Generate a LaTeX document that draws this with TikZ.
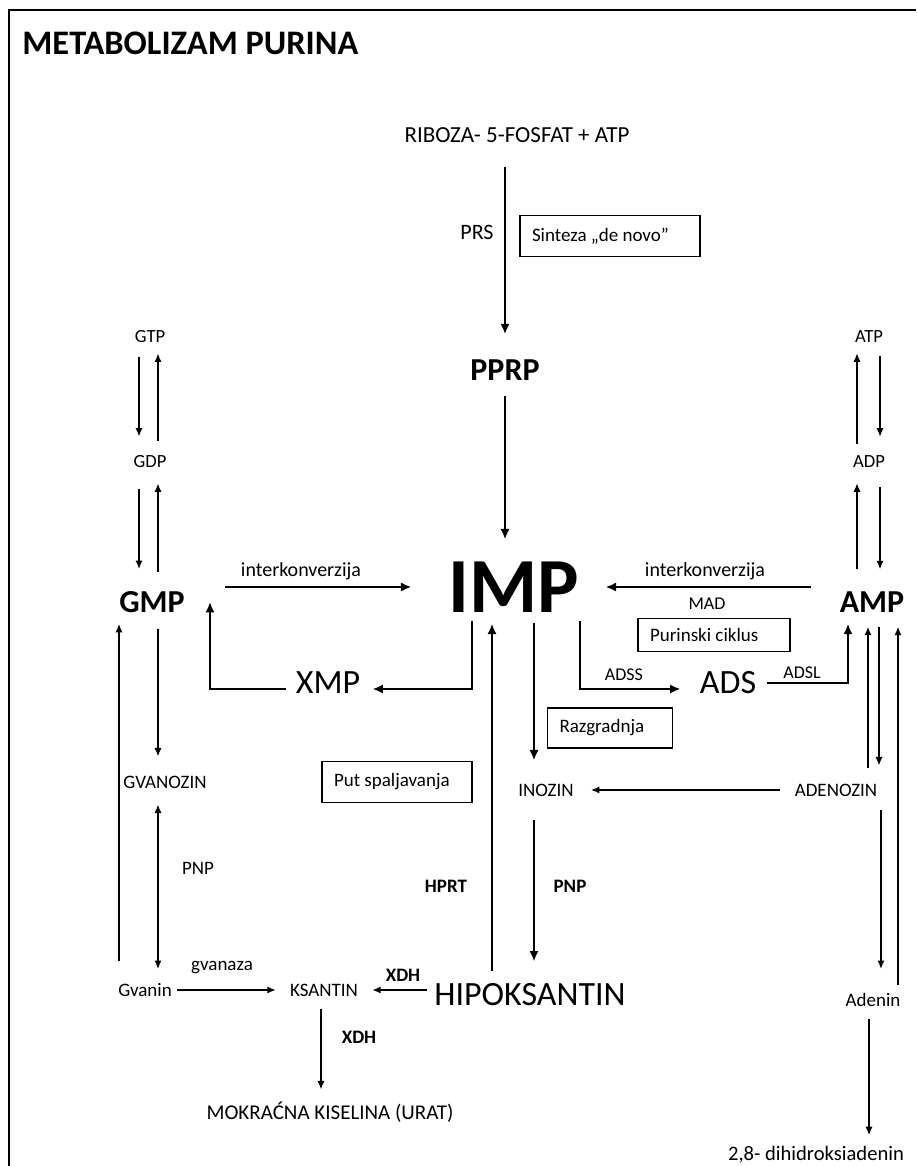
\documentclass[tikz,border=0pt]{standalone}
\usepackage{fontspec}
\setmainfont{Carlito}
\usepackage{tikz}
\usetikzlibrary{arrows,positioning,arrows.meta}
\tikzset{
	frame/.style={
		rectangle, draw, line width=0.8pt,
		inner xsep=6pt, inner ysep=0pt, align=flush left,
		font=\fontsize{9.5}{11}\selectfont,
	},
	line/.style={
		draw, >={Latex[length=4.2pt,width=3.6pt]}, ->, line width=0.7pt,
	},
	bigline/.style={
		draw, >={Latex[length=5.2pt,width=4.6pt]}, ->, line width=1.25pt,
	},
	lbl/.style={inner sep=0pt, font=\fontsize{9.5}{11}\selectfont},
	nuc/.style={inner sep=0pt, font=\fontsize{9.3}{11}\selectfont},
	enz/.style={inner sep=0pt, font=\fontsize{9.5}{11}\selectfont\bfseries},
	met/.style={inner sep=0pt, font=\fontsize{16}{18}\selectfont\bfseries},
	bigmet/.style={inner sep=0pt, font=\fontsize{17}{19}\selectfont},
}

\begin{document}
\begin{tikzpicture}[x=0.5pt, y=-0.5pt]
	\useasboundingbox (0,0) rectangle (916,1166);
	\draw [line width=0.8pt] (9,1166) -- (9,10) -- (916,10);

	\node [anchor=west, inner sep=0pt, font=\fontsize{17.2}{20}\selectfont\bfseries] (title) at (22,43) {METABOLIZAM PURINA};

	% metabolites
	\node [lbl, font=\fontsize{11.5}{13}\selectfont] (rib) at (517,135) {RIBOZA- 5-FOSFAT + ATP};
	\node [met] (pprp) at (505,370) {PPRP};
	\node [met, font=\fontsize{39}{42}\selectfont\bfseries] (imp) at (514,587) {IMP};
	\node [met] (gmp) at (152,602) {GMP};
	\node [met] (amp) at (872,602) {AMP};
	\node [nuc] (gtp) at (150,337) {GTP};
	\node [nuc] (gdp) at (150,462) {GDP};
	\node [nuc] (atp) at (869,337) {ATP};
	\node [nuc] (adp) at (869,462) {ADP};
	\node [bigmet] (xmp) at (328,683) {XMP};
	\node [bigmet] (ads) at (728,683) {ADS};
	\node [lbl] (gvanozin) at (165,782) {GVANOZIN};
	\node [lbl] (inozin) at (546,790) {INOZIN};
	\node [lbl] (adenozin) at (836,790) {ADENOZIN};
	\node [lbl] (gvanin) at (145,990) {Gvanin};
	\node [lbl] (ksantin) at (324,990) {KSANTIN};
	\node [bigmet] (hipo) at (530,995) {HIPOKSANTIN};
	\node [lbl] (adenin) at (873,1000) {Adenin};
	\node [lbl, font=\fontsize{10.5}{12}\selectfont] (urat) at (330,1112) {MOKRAĆNA KISELINA (URAT)};
	\node [lbl, font=\fontsize{10.3}{12}\selectfont] (dihidro) at (816,1155) {2,8- dihidroksiadenin};

	% boxes
	\node [frame, text width=78pt, minimum height=20.5pt] (denovo) at (610,236) {Sinteza „de novo”};
	\node [frame, text width=64pt, minimum height=16.5pt] (ciklus) at (714,635) {Purinski ciklus};
	\node [frame, text width=50.5pt, minimum height=20pt] (razgr) at (610,728) {Razgradnja};
	\node [frame, text width=63pt, minimum height=20.5pt] (spas) at (397,782) {Put spaljavanja};

	% enzymes and labels
	\node [lbl, font=\fontsize{11}{13}\selectfont] (prs) at (477,232) {PRS};
	\node [lbl, font=\fontsize{10}{12}\selectfont] (ikl) at (301,571) {interkonverzija};
	\node [lbl, font=\fontsize{10}{12}\selectfont] (ikr) at (705,571) {interkonverzija};
	\node [lbl, font=\fontsize{9}{11}\selectfont] (mad) at (707,604) {MAD};
	\node [lbl, font=\fontsize{9}{11}\selectfont] (adss) at (624,675) {ADSS};
	\node [lbl, font=\fontsize{9}{11}\selectfont] (adsl) at (802,673) {ADSL};
	\node [enz] (hprt) at (446,886) {HPRT};
	\node [enz] (pnpb) at (570,886) {PNP};
	\node [lbl] (pnp) at (198,868) {PNP};
	\node [lbl] (gvanaza) at (222,968) {gvanaza};
	\node [enz] (xdha) at (403,975) {XDH};
	\node [enz] (xdhb) at (359,1037) {XDH};

	% de novo and interconversion
	\path [bigline, shorten <=12pt, shorten >=12.5pt] ([xshift=-6pt]rib.south) -- (pprp.north);
	\path [bigline, shorten <=7.5pt, shorten >=11pt] (pprp.south) -- ([xshift=-4.5pt]imp.north);
	\path [bigline, shorten <=20pt, shorten >=18.5pt] (gmp.east |- imp.west) -- (imp.west);
	\path [bigline, shorten <=14pt, shorten >=13pt] (amp.west |- imp.east) -- (imp.east);

	% GTP / GDP / GMP
	\path [line, shorten <=6.5pt, shorten >=9.5pt] ([xshift=-5.5pt]gtp.south) -- ([xshift=-5.5pt]gdp.north);
	\path [line, shorten <=7.5pt, shorten >=5pt] ([xshift=4pt]gdp.north) -- ([xshift=4pt]gtp.south);
	\path [line, shorten <=10pt, shorten >=11pt] ([xshift=-5.5pt]gdp.south) -- ([xshift=-6.5pt]gmp.north);
	\path [line, shorten <=9.5pt, shorten >=7.5pt] ([xshift=3pt]gmp.north) -- ([xshift=4pt]gdp.south);

	% ATP / ADP / AMP
	\path [line, shorten <=6pt, shorten >=5pt] ([xshift=-6pt]adp.north) -- ([xshift=-6pt]atp.south);
	\path [line, shorten <=6.5pt, shorten >=9.5pt] ([xshift=5.5pt]atp.south) -- ([xshift=5.5pt]adp.north);
	\path [line, shorten <=11pt, shorten >=7.5pt] ([xshift=-7.5pt]amp.north) -- ([xshift=-6pt]adp.south);
	\path [line, shorten <=9.5pt, shorten >=11pt] ([xshift=5.5pt]adp.south) -- ([xshift=4pt]amp.north);

	% purine cycle
	\path [bigline, shorten <=4pt, shorten >=6pt] ([xshift=-21pt]imp.south) |- ([yshift=-3pt]xmp.east);
	\path [bigline, shorten <=4.5pt] ([yshift=-3pt]xmp.west) -| ([xshift=29pt]gmp.center);
	\path [bigline, shorten <=4pt, shorten >=9.5pt] ([xshift=33pt]imp.south) |- ([yshift=-3pt]ads.west);
	\path [bigline, shorten <=5pt, shorten >=5.5pt] (ads.east) -| ([xshift=-12pt]amp.south);

	% degradation and salvage
	\path [bigline, shorten <=6pt, shorten >=5.5pt] ([xshift=-19pt]hipo.north) -- ([xshift=-11pt]imp.south);
	\path [bigline, shorten <=5pt, shorten >=11.5pt] ([xshift=10pt]imp.south) -- ([xshift=-6pt]inozin.north);
	\path [bigline, shorten <=11.5pt, shorten >=11pt] ([xshift=-6pt]inozin.south) -- ([xshift=2pt]hipo.north);
	\path [line, shorten <=7pt, shorten >=8.5pt] (adenozin.west) -- (inozin.east);
	\path [line, shorten <=7pt, shorten >=9pt] ([xshift=3.5pt]amp.south) -- ([xshift=21.5pt]adenozin.north);
	\path [line, shorten <=7.5pt, shorten >=7pt] ([xshift=16pt]adenozin.north) -- ([xshift=-2pt]amp.south);
	\path [line, shorten <=4pt, shorten >=7pt] ([xshift=12.5pt]adenin.north) -- ([xshift=13pt]amp.south);
	\path [line, shorten <=6.5pt, shorten >=12pt] ([xshift=22.5pt]adenozin.south) -- ([xshift=4pt]adenin.north);
	\path [line, shorten <=6pt, shorten >=5.5pt] ([xshift=-2pt]adenin.south) -- ([xshift=26.5pt]dihidro.north);

	% guanine side
	\path [line, shorten <=8pt, shorten >=9.5pt] ([xshift=3pt]gmp.south) -- ([xshift=-3.5pt]gvanozin.north);
	\path [line, <->, shorten <=8pt, shorten >=7pt] ([xshift=-3.5pt]gvanozin.south) -- ([xshift=6.5pt]gvanin.north);
	\path [line, shorten <=11pt, shorten >=5.5pt] ([xshift=-13pt]gvanin.north) -- ([xshift=-16.5pt]gmp.south);
	\path [line, shorten <=2.5pt, shorten >=7pt] (gvanin.east) -- (ksantin.west);
	\path [line, shorten <=3.5pt, shorten >=7pt] (hipo.west |- ksantin.east) -- (ksantin.east);
	\path [line, shorten <=6pt, shorten >=6pt] ([xshift=-1.5pt]ksantin.south) -- ([xshift=-4.5pt]urat.north);
\end{tikzpicture}
\end{document}
